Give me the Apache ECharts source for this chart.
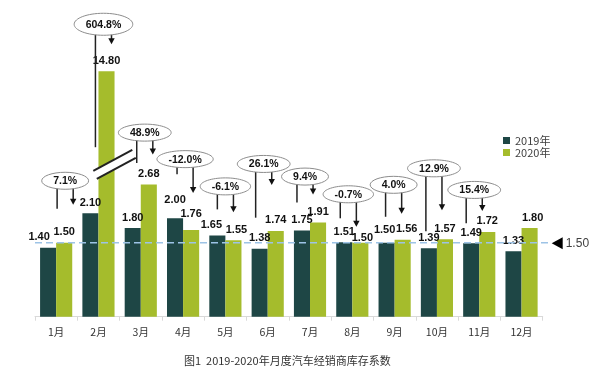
<!DOCTYPE html>
<html><head><meta charset="utf-8">
<script src="https://cdn.jsdelivr.net/npm/echarts@6/dist/echarts.min.js"></script>
<style>html,body{margin:0;padding:0;background:#fff}#c{width:600px;height:369px}</style>
</head><body><div id="c"></div>
<script>
// ---- data ----
const categories = ['1月','2月','3月','4月','5月','6月','7月','8月','9月','10月','11月','12月'];
const inv2019 = [1.40, 2.10, 1.80, 2.00, 1.65, 1.38, 1.75, 1.51, 1.50, 1.39, 1.49, 1.33];
const inv2020 = [1.50, 14.80, 2.68, 1.76, 1.55, 1.74, 1.91, 1.50, 1.56, 1.57, 1.72, 1.80];
const yoyChange = [7.1, 604.8, 48.9, -12.0, -6.1, 26.1, 9.4, -0.7, 4.0, 12.9, 15.4];
const benchmark = 1.50;
const seriesNames = ['2019年', '2020年'];
const caption = '图1  2019-2020年月度汽车经销商库存系数';
// axis break (value units)
const breakStart = 3.1, breakEnd = 12.97;

// ---- annotation layout (pixels, relative to data anchors) ----
const calloutLift  = [62, 47, 52, 59, 49, 67, 46, 48, 55, 71, 42];
const calloutShift = [9, 5, 4, 2, 0, -4, -5, -4, -1, -3, -5];
const leftGap      = [39, 66, 65, 44, 26, 31, 28, 24, 26, 17, 20];
const arrowGap     = [38, 27, 30, 37, 28, 46, 28, 16, 26, 29, 21];
// value-label nudges [dx, dy] in pixels, by month index
const nudge2019 = {0: [-9, 0], 3: [0, -8], 4: [-6, 0], 8: [-2, -2]};
const nudge2020 = {3: [0, -5], 4: [3, 0], 7: [2, 6], 8: [4, 0], 11: [3, 0]};

const C19 = '#1E4645', C20 = '#A5BC2C';
const LBL_FONT = 'Arial, "Liberation Sans", sans-serif';
const CJK = '"Noto Sans CJK SC", "Noto Sans", sans-serif';
const PCT_FONT = 'bold 10.5px ' + LBL_FONT;

const mctx = document.createElement('canvas').getContext('2d');
mctx.font = PCT_FONT;
const fmtPct = v => v.toFixed(1) + '%';

const chart = echarts.init(document.getElementById('c'), null, {renderer: 'canvas'});

const barLabel = {
  show: true, position: 'top', distance: 5,
  fontSize: 11, fontWeight: 'bold', color: '#111', fontFamily: LBL_FONT,
  formatter: p => p.value.toFixed(2)
};
const withNudges = (vals, nudges) => vals.map((v, i) =>
  nudges[i] ? {value: v, label: {offset: nudges[i]}} : v);

chart.setOption({
  animation: false,
  title: {
    text: caption, left: 184, top: 355, padding: 0,
    textStyle: {fontSize: 11, fontWeight: 'normal', color: '#333', fontFamily: CJK}
  },
  legend: {
    data: seriesNames, orient: 'vertical', left: 503, top: 135,
    itemWidth: 7, itemHeight: 7, itemGap: 1, icon: 'rect', padding: 0,
    textStyle: {fontSize: 11, color: '#404040', fontFamily: CJK}
  },
  grid: {left: 35, right: 57.3, top: 41.7, bottom: 52.3},
  xAxis: {
    type: 'category', data: categories,
    axisLine: {lineStyle: {color: '#d9d9d9'}},
    axisTick: {show: true, length: 4, lineStyle: {color: '#d9d9d9'}},
    axisLabel: {color: '#333', fontSize: 10.5, margin: 10, fontFamily: CJK}
  },
  yAxis: {
    type: 'value', min: 0, max: 15.4,
    axisLine: {show: false}, axisTick: {show: false},
    axisLabel: {show: false}, splitLine: {show: false},
    breaks: [{start: breakStart, end: breakEnd, gap: 0.05}],
    breakArea: {show: false}
  },
  series: [
    {
      name: seriesNames[0], type: 'bar', data: withNudges(inv2019, nudge2019),
      barGap: '0%', barCategoryGap: '24%',
      itemStyle: {color: C19}, label: barLabel
    },
    {
      name: seriesNames[1], type: 'bar', data: withNudges(inv2020, nudge2020),
      itemStyle: {color: C20}, label: barLabel
    },
    {
      // axis break marker on the Feb 2020 bar
      type: 'custom', z: 5, clip: false, silent: true,
      data: [[1, breakStart]],
      renderItem: (params, api) => {
        const p = api.coord([api.value(0), api.value(1)]);
        const catW = api.size([1, 0])[0];
        const cx = p[0] + catW * 0.38, cy = p[1] + 0.5;
        const dx = 19.5, dy = 10.5;
        const a1 = [cx - 1.75 - dx, cy - 4 + dy], b1 = [cx - 1.75 + dx, cy - 4 - dy];
        const a2 = [cx + 1.75 - dx, cy + 4 + dy], b2 = [cx + 1.75 + dx, cy + 4 - dy];
        return {type: 'group', children: [
          {type: 'polygon', shape: {points: [a1, b1, b2, a2]}, style: {fill: '#fff'}},
          {type: 'line', shape: {x1: a1[0], y1: a1[1], x2: b1[0], y2: b1[1]}, style: {stroke: '#222', lineWidth: 2}},
          {type: 'line', shape: {x1: a2[0], y1: a2[1], x2: b2[0], y2: b2[1]}, style: {stroke: '#222', lineWidth: 2}}
        ]};
      }
    },
    {
      // YoY callouts
      type: 'custom', z: 6, clip: false, silent: true,
      data: yoyChange.map((v, i) => [i, 0]),
      renderItem: (params, api) => {
        const i = api.value(0);
        const base = api.coord([i, 0]);
        const catW = api.size([1, 0])[0];
        const off = catW * 0.76 / 4;
        const cx = base[0] + calloutShift[i];
        const y19 = api.coord([i, inv2019[i]])[1];
        const y20 = api.coord([i, inv2020[i]])[1];
        const cy = Math.min(y19, y20) - calloutLift[i];
        const txt = fmtPct(yoyChange[i]);
        const tw = mctx.measureText(txt).width;
        const rx = tw / 2 + 11.5, ry = i === 1 ? 11 : 8.5;
        const xL = cx - off, xR = cx + off;
        const ys = x => cy + ry * Math.sqrt(Math.max(0, 1 - Math.pow((x - cx) / rx, 2))) - 1;
        const endL = y19 - leftGap[i];
        const tip = y20 - arrowGap[i];
        return {type: 'group', children: [
          {type: 'line', shape: {x1: xL, y1: ys(xL), x2: xL, y2: endL}, style: {stroke: '#222', lineWidth: 1.5}},
          {type: 'line', shape: {x1: xR, y1: ys(xR), x2: xR, y2: tip - 5}, style: {stroke: '#222', lineWidth: 1.5}},
          {type: 'polygon', shape: {points: [[xR - 3.2, tip - 6], [xR + 3.2, tip - 6], [xR, tip]]}, style: {fill: '#111'}},
          {type: 'ellipse', shape: {cx: cx, cy: cy, rx: rx, ry: ry}, style: {fill: '#fff', stroke: '#8c8c8c', lineWidth: 1}},
          {type: 'text', x: cx, y: cy + 0.5, style: {text: txt, align: 'center', verticalAlign: 'middle',
            font: PCT_FONT, fill: '#111'}}
        ]};
      }
    },
    {
      // benchmark dashed line with pointer
      type: 'custom', z: 7, clip: false, silent: true,
      data: [[0, benchmark]],
      renderItem: (params, api) => {
        const cs = params.coordSys;
        const y = api.coord([0, api.value(1)])[1];
        const xEnd = cs.x + cs.width + 9;
        return {type: 'group', children: [
          {type: 'line', shape: {x1: cs.x, y1: y, x2: xEnd, y2: y},
            style: {stroke: '#9DC3E6', lineWidth: 1.5, lineDash: [7, 4]}},
          {type: 'polygon', shape: {points: [[xEnd, y + 0.5], [xEnd + 11, y - 5.5], [xEnd + 11, y + 6.5]]}, style: {fill: '#000'}},
          {type: 'text', x: xEnd + 14, y: y + 1, style: {text: api.value(1).toFixed(2), align: 'left', verticalAlign: 'middle',
            font: '12px ' + LBL_FONT, fill: '#404040'}}
        ]};
      }
    }
  ]
});
</script>
</body></html>
